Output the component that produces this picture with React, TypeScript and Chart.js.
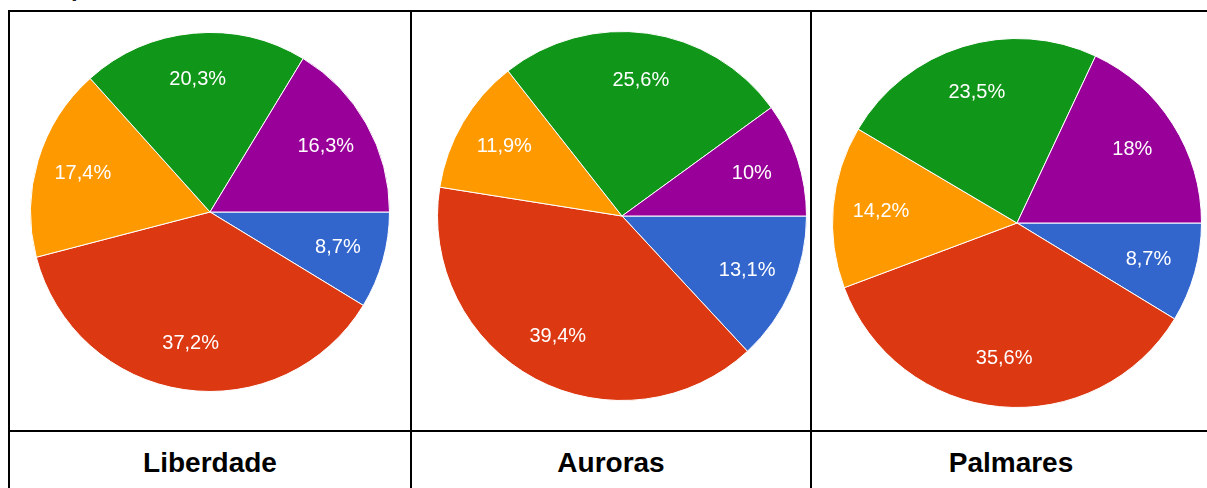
import React, { useEffect, useRef } from "react";
import { Chart, registerables } from "chart.js";

Chart.register(...registerables);

const categories = ["Liberdade", "Auroras", "Palmares"];
const sliceNames = ["Azul", "Vermelho", "Laranja", "Verde", "Roxo"];
const liberdadeValues = [8.7, 37.2, 17.4, 20.3, 16.3];
const aurorasValues = [13.1, 39.4, 11.9, 25.6, 10];
const palmaresValues = [8.7, 35.6, 14.2, 23.5, 18];
const sliceColors = ["#3366CC", "#DC3912", "#FF9900", "#109618", "#990099"];

const seriesList = [liberdadeValues, aurorasValues, palmaresValues];

// layout of each pie canvas (page pixels)
const pieBoxes = [
  { left: 30, top: 32, size: 360 },
  { left: 437, top: 31, size: 370 },
  { left: 832, top: 38, size: 370 },
];

const FONT = "'Liberation Sans', Arial, Helvetica, sans-serif";

const fmt = (v: number) => String(v).replace(".", ",") + "%";

const labelPlugin = {
  id: "sliceLabels",
  afterDatasetsDraw(chart: any) {
    const ctx = chart.ctx;
    const meta = chart.getDatasetMeta(0);
    const data = chart.data.datasets[0].data as number[];
    ctx.save();
    ctx.fillStyle = "#ffffff";
    ctx.font = `20px ${FONT}`;
    ctx.textAlign = "center";
    ctx.textBaseline = "middle";
    meta.data.forEach((arc: any, i: number) => {
      const p = arc.getProps(["x", "y", "startAngle", "endAngle", "outerRadius"], true);
      const mid = (p.startAngle + p.endAngle) / 2;
      const r = p.outerRadius * 0.74;
      ctx.fillText(fmt(data[i]), p.x + Math.cos(mid) * r, p.y + Math.sin(mid) * r);
    });
    ctx.restore();
  },
};

function PieCanvas({ values, box }: { values: number[]; box: { left: number; top: number; size: number } }) {
  const ref = useRef<HTMLCanvasElement | null>(null);
  useEffect(() => {
    if (!ref.current) return;
    const chart = new Chart(ref.current, {
      type: "pie",
      data: {
        labels: sliceNames,
        datasets: [
          {
            data: values,
            backgroundColor: sliceColors,
            borderColor: "#ffffff",
            borderWidth: 1,
            hoverOffset: 0,
            offset: 0,
          },
        ],
      },
      options: {
        responsive: false,
        animation: false,
        rotation: 90,
        events: [],
        layout: { padding: 0 },
        plugins: {
          legend: { display: false },
          tooltip: { enabled: false },
          title: { display: false },
        },
      },
      plugins: [labelPlugin],
    });
    return () => chart.destroy();
  }, [values]);
  return (
    <canvas
      ref={ref}
      width={box.size}
      height={box.size}
      style={{ position: "absolute", left: box.left, top: box.top, width: box.size, height: box.size }}
    />
  );
}

const line = (style: React.CSSProperties) => (
  <div style={{ position: "absolute", background: "#000", ...style }} />
);

export default function App() {
  const colCenters = [210, 611, 1011];
  return (
    <div
      style={{
        position: "absolute",
        left: 0,
        top: 0,
        width: 1207,
        height: 488,
        overflow: "hidden",
        background: "#fff",
        fontFamily: FONT,
      }}
    >
      <div
        style={{
          position: "absolute",
          left: 71,
          top: -24,
          fontSize: 24,
          lineHeight: "24px",
          fontWeight: "bold",
          color: "#222",
        }}
      >
        p
      </div>
      {seriesList.map((vals, i) => (
        <PieCanvas key={categories[i]} values={vals} box={pieBoxes[i]} />
      ))}
      {line({ left: 8, top: 10, width: 1199, height: 2 })}
      {line({ left: 8, top: 10, width: 2, height: 478 })}
      {line({ left: 410, top: 10, width: 2, height: 478 })}
      {line({ left: 810, top: 10, width: 2, height: 478 })}
      {line({ left: 8, top: 430, width: 1199, height: 2 })}
      {categories.map((c, i) => (
        <div
          key={c}
          style={{
            position: "absolute",
            left: colCenters[i] - 200,
            width: 400,
            top: 447,
            textAlign: "center",
            fontSize: 28,
            lineHeight: "32px",
            fontWeight: "bold",
            color: "#000",
          }}
        >
          {c}
        </div>
      ))}
    </div>
  );
}
